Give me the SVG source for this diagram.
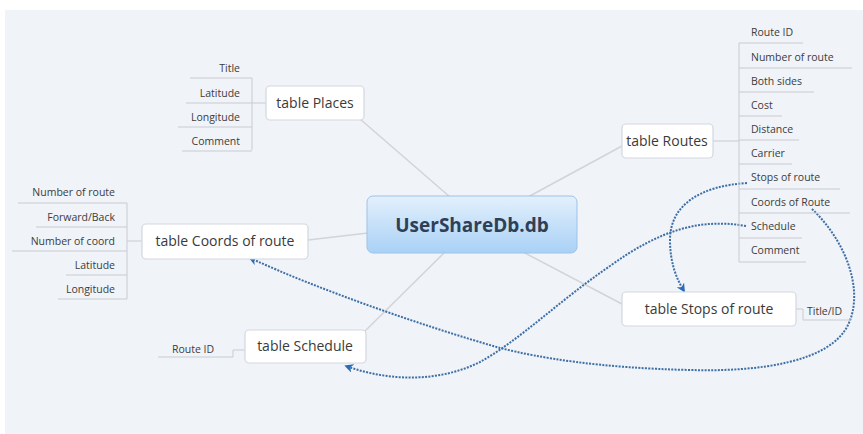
<svg xmlns="http://www.w3.org/2000/svg" width="863" height="434" viewBox="0 0 863 434">
<defs>
<linearGradient id="cg" x1="0" y1="0" x2="0" y2="1">
<stop offset="0" stop-color="#e3f0fc"/>
<stop offset="1" stop-color="#a9d1f6"/>
</linearGradient>
<marker id="ah" viewBox="0 0 10 10" refX="8" refY="5" markerWidth="9" markerHeight="9" orient="auto" markerUnits="userSpaceOnUse">
<path d="M0,0 L10,5 L0,10 L3,5 z" fill="#2a6cb5"/>
</marker>
<style>
.box{fill:#ffffff;stroke:#d3d7de;stroke-width:1.2}
.nt{font-family:"Open Sans","Noto Sans",sans-serif;font-size:14px;fill:#3a3a3a;text-anchor:middle}
.lf{font-family:"Open Sans","Noto Sans",sans-serif;font-size:10.5px;fill:#3c3c3c}
.ul{stroke:#c9ccd2;stroke-width:1;fill:none}
.br{stroke:#c9ccd2;stroke-width:1;fill:none}
.cn{stroke:#d2d4da;stroke-width:1.5;fill:none}
.dl{stroke:#3c6fa6;stroke-width:2;fill:none;stroke-dasharray:2 1.3;marker-end:url(#ah)}
</style>
</defs>
<rect x="0" y="0" width="863" height="434" fill="#ffffff"/>
<rect x="5" y="10" width="858" height="424" fill="#f0f3f8"/>

<g id="connectors">
<line class="cn" x1="450" y1="197" x2="360" y2="119"/>
<line class="cn" x1="528" y1="197" x2="622" y2="146"/>
<line class="cn" x1="368" y1="233" x2="308" y2="240"/>
<line class="cn" x1="445" y1="252" x2="362" y2="334"/>
<line class="cn" x1="523" y1="252" x2="622" y2="304"/>
<line class="br" x1="252" y1="103" x2="266" y2="103"/>
<line class="br" x1="127" y1="241" x2="142" y2="241"/>
<line class="br" x1="713" y1="141" x2="739" y2="141"/>
<path class="br" d="M796 309 L803 309 L803 320"/>
<path class="br" d="M245 350 L233 350 L233 357"/>
<path class="dl" d="M747 183 C700 186 670 205 670 240 C670 262 676 278 684 291"/>
<path class="dl" d="M746 226 C700 218 660 230 610 266 C560 300 520 340 480 362 C440 382 390 382 346 366"/>
<path class="dl" d="M812 209 C845 240 865 290 848 325 C830 362 760 372 690 370 C600 368 540 358 500 348 C420 325 320 290 250 258"/>
</g>

<g id="center">
<rect x="367" y="196" width="210" height="57" rx="6" fill="url(#cg)" stroke="#9cc3e8" stroke-width="1"/>
<text x="472" y="232" font-family="Open Sans,Noto Sans,sans-serif" font-size="19" font-weight="bold" fill="#2f3f55" text-anchor="middle">UserShareDb.db</text>
</g>

<g id="places">
<rect class="box" x="266" y="86" width="98" height="34" rx="4"/>
<text class="nt" x="315" y="108">table Places</text>
</g>
<g id="places-leaves">
<path class="br" d="M252 78 L252 150"/>
<text class="lf" x="240" y="72" text-anchor="end">Title</text>
<line class="ul" x1="190" y1="78" x2="252" y2="78"/>
<text class="lf" x="240" y="97" text-anchor="end">Latitude</text>
<line class="ul" x1="186" y1="103" x2="252" y2="103"/>
<text class="lf" x="240" y="121" text-anchor="end">Longitude</text>
<line class="ul" x1="178" y1="127" x2="252" y2="127"/>
<text class="lf" x="240" y="145" text-anchor="end">Comment</text>
<line class="ul" x1="182" y1="151" x2="252" y2="151"/>
</g>

<g id="coords">
<rect class="box" x="142" y="224" width="166" height="35" rx="4"/>
<text class="nt" x="225" y="246">table Coords of route</text>
</g>
<g id="coords-leaves">
<path class="br" d="M127 203 L127 299"/>
<text class="lf" x="115" y="196" text-anchor="end">Number of route</text>
<line class="ul" x1="18" y1="203" x2="127" y2="203"/>
<text class="lf" x="115" y="221" text-anchor="end">Forward/Back</text>
<line class="ul" x1="36" y1="227" x2="127" y2="227"/>
<text class="lf" x="115" y="245" text-anchor="end">Number of coord</text>
<line class="ul" x1="12" y1="251" x2="127" y2="251"/>
<text class="lf" x="115" y="269" text-anchor="end">Latitude</text>
<line class="ul" x1="66" y1="275" x2="127" y2="275"/>
<text class="lf" x="115" y="293" text-anchor="end">Longitude</text>
<line class="ul" x1="58" y1="299" x2="127" y2="299"/>
</g>

<g id="routes">
<rect class="box" x="622" y="124" width="91" height="34" rx="4"/>
<text class="nt" x="667" y="146">table Routes</text>
</g>
<g id="routes-leaves">
<path class="br" d="M739 43 L739 262"/>
<text class="lf" x="751" y="36">Route ID</text>
<line class="ul" x1="739" y1="43" x2="803" y2="43"/>
<text class="lf" x="751" y="61">Number of route</text>
<line class="ul" x1="739" y1="68" x2="852" y2="68"/>
<text class="lf" x="751" y="85">Both sides</text>
<line class="ul" x1="739" y1="92" x2="814" y2="92"/>
<text class="lf" x="751" y="109">Cost</text>
<line class="ul" x1="739" y1="116" x2="782" y2="116"/>
<text class="lf" x="751" y="133">Distance</text>
<line class="ul" x1="739" y1="140" x2="799" y2="140"/>
<text class="lf" x="751" y="157">Carrier</text>
<line class="ul" x1="739" y1="164" x2="792" y2="164"/>
<text class="lf" x="751" y="181">Stops of route</text>
<line class="ul" x1="739" y1="189" x2="840" y2="189"/>
<text class="lf" x="751" y="206">Coords of Route</text>
<line class="ul" x1="739" y1="213" x2="850" y2="213"/>
<text class="lf" x="751" y="230">Schedule</text>
<line class="ul" x1="739" y1="238" x2="802" y2="238"/>
<text class="lf" x="751" y="254">Comment</text>
<line class="ul" x1="739" y1="262" x2="806" y2="262"/>
</g>

<g id="stops">
<rect class="box" x="622" y="292" width="174" height="34" rx="4"/>
<text class="nt" x="709" y="314">table Stops of route</text>
</g>
<g id="stops-leaf">
<text class="lf" x="807" y="315">Title/ID</text>
<line class="ul" x1="803" y1="320" x2="851" y2="320"/>
</g>

<g id="schedule">
<rect class="box" x="245" y="330" width="121" height="33" rx="4"/>
<text class="nt" x="305" y="351">table Schedule</text>
</g>
<g id="schedule-leaf">
<text class="lf" x="172" y="353">Route ID</text>
<line class="ul" x1="158" y1="357" x2="233" y2="357"/>
</g>
</svg>
